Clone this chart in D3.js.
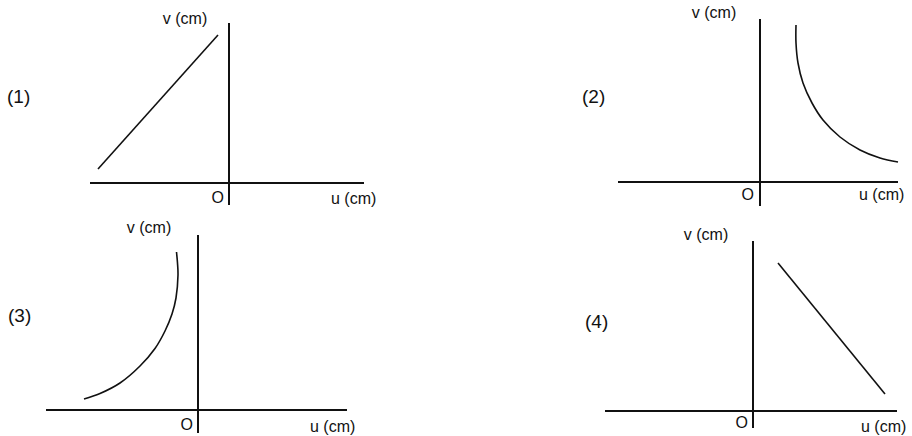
<!DOCTYPE html>
<html>
<head>
<meta charset="utf-8">
<script src="https://cdn.jsdelivr.net/npm/d3@7"></script>
<style>
  html, body { margin: 0; padding: 0; background: #fff; }
  svg { display: block; }
  text { font-family: "Liberation Sans", Arial, sans-serif; fill: #111; }
</style>
</head>
<body>
<svg class="chart"></svg>
<script>
(function (w) {
  // data (units on each panel: arbitrary cm)
  const panelNames = ['(1)', '(2)', '(3)', '(4)']
  const uTitle = 'u (cm)'
  const vTitle = 'v (cm)'
  const originTitle = 'O'

  const graph1U = [-13.1, -1.1]
  const graph1V = [1.4, 14.8]

  const graph2U = [3.6, 3.6, 3.8, 4.3, 5.2, 6.3, 8.0, 10.0, 12.0, 13.8]
  const graph2V = [15.7, 13.9, 11.9, 9.9, 7.9, 6.2, 4.5, 3.2, 2.4, 2.0]

  const graph3U = [-11.4, -9.8, -7.8, -5.8, -4.3, -3.3, -2.6, -2.2, -2.0, -2.05, -2.15]
  const graph3V = [1.1, 1.65, 2.7, 4.4, 6.15, 7.9, 9.6, 11.2, 13.5, 14.7, 15.8]

  const graph4U = [2.5, 13.2]
  const graph4V = [14.8, 1.7]

  const axisU = [[-13.9, 13.5], [-14.2, 13.8], [-15.2, 14.9], [-14.8, 14.4]]
  const axisV = [[-2.2, 16.0], [-2.4, 16.3], [-2.3, 17.5], [-1.7, 17.0]]

  // layout
  const width = 912
  const height = 436
  const pxPerUnit = 10
  const layout = [
    { ox: 229, oy: 183, curve: false, name: [7, 103], v: [185, 24], o: [224, 203], u: [331, 204] },
    { ox: 760, oy: 182, curve: true, name: [582, 103], v: [714, 18], o: [754, 200], u: [859, 200] },
    { ox: 198, oy: 410, curve: true, name: [8, 322], v: [149, 233], o: [193, 430], u: [310, 432] },
    { ox: 753, oy: 411, curve: false, name: [585, 328], v: [706, 240], o: [748, 428], u: [861, 432] }
  ]
  const seriesU = [graph1U, graph2U, graph3U, graph4U]
  const seriesV = [graph1V, graph2V, graph3V, graph4V]

  const svg = w.d3.select('.chart')
        .attr('width', width)
        .attr('height', height)

  layout.forEach(function (p, i) {
    const ud = axisU[i]
    const vd = axisV[i]
    const x = w.d3.scaleLinear()
          .domain(ud)
          .range([p.ox + ud[0] * pxPerUnit, p.ox + ud[1] * pxPerUnit])
    const y = w.d3.scaleLinear()
          .domain(vd)
          .range([p.oy - vd[0] * pxPerUnit, p.oy - vd[1] * pxPerUnit])
    const g = svg.append('g')

    // axes
    g.append('line')
        .attr('x1', x(ud[0])).attr('x2', x(ud[1]))
        .attr('y1', y(0)).attr('y2', y(0))
        .attr('stroke', '#111').attr('stroke-width', 2)
    g.append('line')
        .attr('x1', x(0)).attr('x2', x(0))
        .attr('y1', y(vd[0])).attr('y2', y(vd[1]))
        .attr('stroke', '#111').attr('stroke-width', 2)

    // graph
    const pts = seriesU[i].map(function (u, k) { return [u, seriesV[i][k]] })
    const line = w.d3.line()
          .x(function (d) { return x(d[0]) })
          .y(function (d) { return y(d[1]) })
    if (p.curve) line.curve(w.d3.curveCatmullRom.alpha(0.5))
    g.append('path')
        .datum(pts)
        .attr('d', line)
        .attr('fill', 'none')
        .attr('stroke', '#111')
        .attr('stroke-width', 1.6)

    // texts
    g.append('text')
        .attr('x', p.name[0]).attr('y', p.name[1])
        .style('font-size', '19px')
        .text(panelNames[i])
    g.append('text')
        .attr('x', p.v[0]).attr('y', p.v[1])
        .attr('text-anchor', 'middle')
        .style('font-size', '16px')
        .text(vTitle)
    g.append('text')
        .attr('x', p.o[0]).attr('y', p.o[1])
        .attr('text-anchor', 'end')
        .style('font-size', '16px')
        .text(originTitle)
    g.append('text')
        .attr('x', p.u[0]).attr('y', p.u[1])
        .style('font-size', '16px')
        .text(uTitle)
  })
})(window)
</script>
</body>
</html>
